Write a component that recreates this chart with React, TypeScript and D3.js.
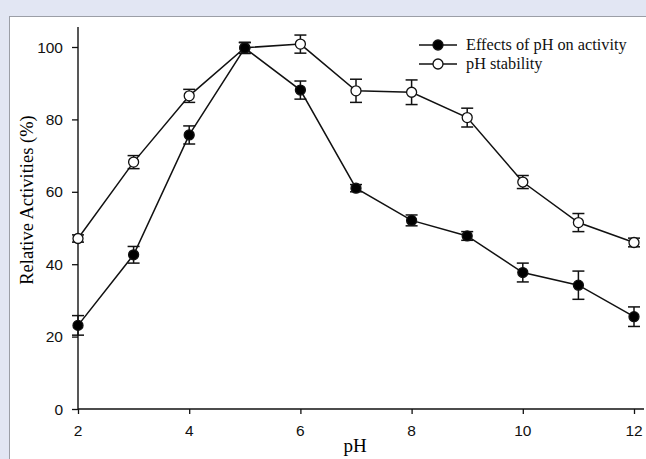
import React, { useEffect, useRef } from 'react';
import * as d3 from 'd3';

const ph = [2, 3, 4, 5, 6, 7, 8, 9, 10, 11, 12];
const activity = [23.1, 42.6, 75.7, 99.7, 88.1, 61.0, 52.1, 47.8, 37.7, 34.2, 25.5];
const activityErr = [2.7, 2.3, 2.5, 1.5, 2.5, 1.0, 1.5, 1.2, 2.6, 3.9, 2.7];
const stability = [47.1, 68.2, 86.5, 99.8, 100.8, 87.9, 87.5, 80.5, 62.7, 51.5, 46.0];
const stabilityErr = [1.0, 1.8, 1.8, 1.5, 2.5, 3.2, 3.4, 2.6, 1.8, 2.5, 1.2];
const xTicks = [2, 4, 6, 8, 10, 12];
const yTicks = [0, 20, 40, 60, 80, 100];

const W = 646, H = 459;
const SERIF = '"Liberation Serif", "Times New Roman", serif';
const SANS = '"Liberation Sans", Arial, sans-serif';

const App = () => {
  const ref = useRef(null);

  useEffect(() => {
    const svg = d3.select(ref.current);
    svg.selectAll('*').remove();

    // frame
    svg.append('rect').attr('width', W).attr('height', H).attr('fill', '#e2e6f3');
    svg.append('rect')
      .attr('x', 9.5).attr('y', 16.5)
      .attr('width', W).attr('height', H)
      .attr('fill', '#fff').attr('stroke', '#9b9ea6').attr('stroke-width', 1);

    const x = d3.scaleLinear().domain([2, 12]).range([78, 634]);
    const y = d3.scaleLinear().domain([0, 100]).range([409, 47]);

    const g = svg.append('g');

    // axes: ticks from d3, labels drawn separately
    const xAxis = g.append('g')
      .attr('transform', `translate(0,${y(0)})`)
      .call(d3.axisBottom(x).tickValues(xTicks).tickSize(5).tickSizeOuter(0).tickFormat(() => ''));
    const yAxis = g.append('g')
      .attr('transform', `translate(${x(2)},0)`)
      .call(d3.axisLeft(y).tickValues(yTicks).tickSize(6).tickSizeOuter(0).tickFormat(() => ''));
    [xAxis, yAxis].forEach(a => {
      a.select('.domain').remove();
      a.selectAll('text').remove();
      a.selectAll('line').attr('stroke', '#111').attr('stroke-width', 1.3);
    });

    g.append('g').selectAll('text')
      .data(xTicks)
      .enter()
      .append('text')
      .attr('x', d => x(d))
      .attr('y', 436)
      .attr('text-anchor', 'middle')
      .attr('font-family', SANS)
      .attr('font-size', 15.5)
      .attr('fill', '#111')
      .text(d => d);
    g.append('g').selectAll('text')
      .data(yTicks)
      .enter()
      .append('text')
      .attr('x', 63)
      .attr('y', d => y(d) + 5.5)
      .attr('text-anchor', 'end')
      .attr('font-family', SANS)
      .attr('font-size', 15.5)
      .attr('fill', '#111')
      .text(d => d);

    g.append('line')
      .attr('x1', x(2)).attr('x2', x(12.18))
      .attr('y1', y(0)).attr('y2', y(0))
      .attr('stroke', '#111').attr('stroke-width', 1.4);
    g.append('line')
      .attr('x1', x(2)).attr('x2', x(2))
      .attr('y1', y(0)).attr('y2', y(105.5))
      .attr('stroke', '#111').attr('stroke-width', 1.4);

    // titles
    g.append('text')
      .attr('x', 355).attr('y', 452)
      .attr('text-anchor', 'middle')
      .attr('font-family', SERIF)
      .attr('font-size', 19)
      .text('pH');
    g.append('text')
      .attr('transform', `translate(33,200) rotate(-90)`)
      .attr('text-anchor', 'middle')
      .attr('font-family', SERIF)
      .attr('font-size', 18.5)
      .text('Relative Activities (%)');

    const line = d3.line().x((d, i) => x(ph[i])).y(d => y(d));

    const drawSeries = (vals, errs, fill) => {
      g.append('path')
        .datum(vals)
        .attr('d', line)
        .attr('fill', 'none')
        .attr('stroke', '#111')
        .attr('stroke-width', 1.5);
      const eb = g.append('g');
      vals.forEach((v, i) => {
        const cx = x(ph[i]);
        const t = y(v + errs[i]), b = y(v - errs[i]);
        eb.append('line').attr('x1', cx).attr('x2', cx).attr('y1', t).attr('y2', b);
        eb.append('line').attr('x1', cx - 6).attr('x2', cx + 6).attr('y1', t).attr('y2', t);
        eb.append('line').attr('x1', cx - 6).attr('x2', cx + 6).attr('y1', b).attr('y2', b);
      });
      eb.selectAll('line').attr('stroke', '#111').attr('stroke-width', 1.5);
      g.append('g').selectAll('circle')
        .data(vals)
        .enter()
        .append('circle')
        .attr('cx', (d, i) => x(ph[i]))
        .attr('cy', d => y(d))
        .attr('r', 5)
        .attr('fill', fill)
        .attr('stroke', '#111')
        .attr('stroke-width', 1.3);
    };

    drawSeries(stability, stabilityErr, '#fff');
    drawSeries(activity, activityErr, '#000');

    // legend
    const legend = [
      { label: 'Effects of pH on activity', fill: '#000' },
      { label: 'pH stability', fill: '#fff' }
    ];
    legend.forEach((d, i) => {
      const ly = 45 + i * 19;
      g.append('line')
        .attr('x1', 419).attr('x2', 457).attr('y1', ly).attr('y2', ly)
        .attr('stroke', '#111').attr('stroke-width', 1.5);
      g.append('circle')
        .attr('cx', 438).attr('cy', ly).attr('r', 5)
        .attr('fill', d.fill).attr('stroke', '#111').attr('stroke-width', 1.3);
      g.append('text')
        .attr('x', 466).attr('y', ly + 5)
        .attr('font-family', SERIF)
        .attr('font-size', 16.3)
        .attr('fill', '#111')
        .text(d.label);
    });
  }, []);

  return (
    <div style={{ position: 'absolute', left: 0, top: 0 }}>
      <svg ref={ref} width={W} height={H} style={{ display: 'block' }} />
    </div>
  );
};

export default App;
